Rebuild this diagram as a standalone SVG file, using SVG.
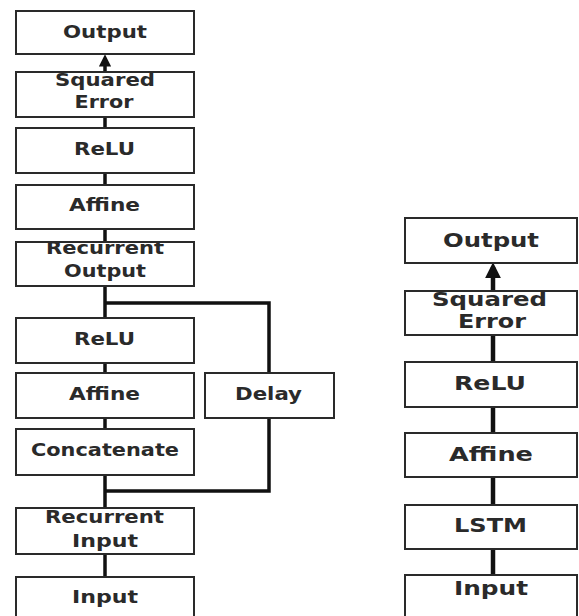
<svg xmlns="http://www.w3.org/2000/svg" width="579" height="616" viewBox="0 0 579 616">
<style>
.box{fill:#fff;stroke:#2a2a2a;stroke-width:2}
.t{font-family:"DejaVu Sans","Verdana",sans-serif;font-weight:bold;fill:#2a2a2a;text-anchor:middle}
.l{font-size:18.5px}
.r{font-size:20px}
.cl{stroke:#111;fill:none;stroke-width:3.5}
.cr{stroke:#111;fill:none;stroke-width:4.5}
</style>
<defs>
<marker id="arr" viewBox="0 0 10 10" refX="7" refY="5" markerWidth="3.5" markerHeight="3.5" orient="auto" markerUnits="strokeWidth">
<path d="M0,0 L10,5 L0,10 z" fill="#111"/>
</marker>
</defs>
<g id="connectors">
<line class="cl" x1="105" y1="72" x2="105" y2="58" marker-end="url(#arr)"/>
<line class="cl" x1="105" y1="117" x2="105" y2="128"/>
<line class="cl" x1="105" y1="173" x2="105" y2="185"/>
<line class="cl" x1="105" y1="229" x2="105" y2="242"/>
<line class="cl" x1="105" y1="286" x2="105" y2="318"/>
<polyline class="cl" points="105,303 269,303 269,373"/>
<line class="cl" x1="105" y1="363" x2="105" y2="373"/>
<line class="cl" x1="105" y1="418" x2="105" y2="429"/>
<line class="cl" x1="105" y1="475" x2="105" y2="508"/>
<polyline class="cl" points="269,418 269,491 105,491"/>
<line class="cl" x1="105" y1="554" x2="105" y2="577"/>
<line class="cr" x1="493" y1="291" x2="493" y2="267" marker-end="url(#arr)"/>
<line class="cr" x1="493" y1="335" x2="493" y2="362"/>
<line class="cr" x1="493" y1="407" x2="493" y2="433"/>
<line class="cr" x1="493" y1="477" x2="493" y2="505"/>
<line class="cr" x1="493" y1="549" x2="493" y2="575"/>
</g>
<g id="l-output"><rect class="box" x="16" y="11" width="178" height="43"/><text class="t l" x="105" y="38" textLength="84" lengthAdjust="spacingAndGlyphs">Output</text></g>
<g id="l-squared-error"><rect class="box" x="16" y="72" width="178" height="45"/><text class="t l" x="105" y="86" textLength="100" lengthAdjust="spacingAndGlyphs">Squared</text><text class="t l" x="104" y="108" textLength="59" lengthAdjust="spacingAndGlyphs">Error</text></g>
<g id="l-relu1"><rect class="box" x="16" y="128" width="178" height="45"/><text class="t l" x="104.5" y="155" textLength="61" lengthAdjust="spacingAndGlyphs">ReLU</text></g>
<g id="l-affine1"><rect class="box" x="16" y="185" width="178" height="44"/><text class="t l" x="104.5" y="211" textLength="71" lengthAdjust="spacingAndGlyphs">Affine</text></g>
<g id="l-recurrent-output"><rect class="box" x="16" y="242" width="178" height="44"/><text class="t l" x="105" y="254" textLength="118" lengthAdjust="spacingAndGlyphs">Recurrent</text><text class="t l" x="105" y="277" textLength="82" lengthAdjust="spacingAndGlyphs">Output</text></g>
<g id="l-relu2"><rect class="box" x="16" y="318" width="178" height="45"/><text class="t l" x="104.5" y="345" textLength="61" lengthAdjust="spacingAndGlyphs">ReLU</text></g>
<g id="l-affine2"><rect class="box" x="16" y="373" width="178" height="45"/><text class="t l" x="104.5" y="400" textLength="71" lengthAdjust="spacingAndGlyphs">Affine</text></g>
<g id="l-delay"><rect class="box" x="205" y="373" width="129" height="45"/><text class="t l" x="268.5" y="400" textLength="67" lengthAdjust="spacingAndGlyphs">Delay</text></g>
<g id="l-concatenate"><rect class="box" x="16" y="429" width="178" height="46"/><text class="t l" x="105" y="456" textLength="148" lengthAdjust="spacingAndGlyphs">Concatenate</text></g>
<g id="l-recurrent-input"><rect class="box" x="16" y="508" width="178" height="46"/><text class="t l" x="104.5" y="523" textLength="119" lengthAdjust="spacingAndGlyphs">Recurrent</text><text class="t l" x="105" y="547" textLength="66" lengthAdjust="spacingAndGlyphs">Input</text></g>
<g id="l-input"><rect class="box" x="16" y="577" width="178" height="50"/><text class="t l" x="105" y="603" textLength="66" lengthAdjust="spacingAndGlyphs">Input</text></g>
<g id="r-output"><rect class="box" x="405" y="218" width="172" height="45"/><text class="t r" x="491" y="247" textLength="96" lengthAdjust="spacingAndGlyphs">Output</text></g>
<g id="r-squared-error"><rect class="box" x="405" y="291" width="172" height="44"/><text class="t r" x="489.5" y="306" textLength="115" lengthAdjust="spacingAndGlyphs">Squared</text><text class="t r" x="492" y="328" textLength="68" lengthAdjust="spacingAndGlyphs">Error</text></g>
<g id="r-relu"><rect class="box" x="405" y="362" width="172" height="45"/><text class="t r" x="490" y="390" textLength="72" lengthAdjust="spacingAndGlyphs">ReLU</text></g>
<g id="r-affine"><rect class="box" x="405" y="433" width="172" height="44"/><text class="t r" x="491" y="461" textLength="84" lengthAdjust="spacingAndGlyphs">Affine</text></g>
<g id="r-lstm"><rect class="box" x="405" y="505" width="172" height="44"/><text class="t r" x="490.5" y="532" textLength="73" lengthAdjust="spacingAndGlyphs">LSTM</text></g>
<g id="r-input"><rect class="box" x="405" y="575" width="172" height="52"/><text class="t r" x="491" y="595" textLength="74" lengthAdjust="spacingAndGlyphs">Input</text></g>
</svg>
